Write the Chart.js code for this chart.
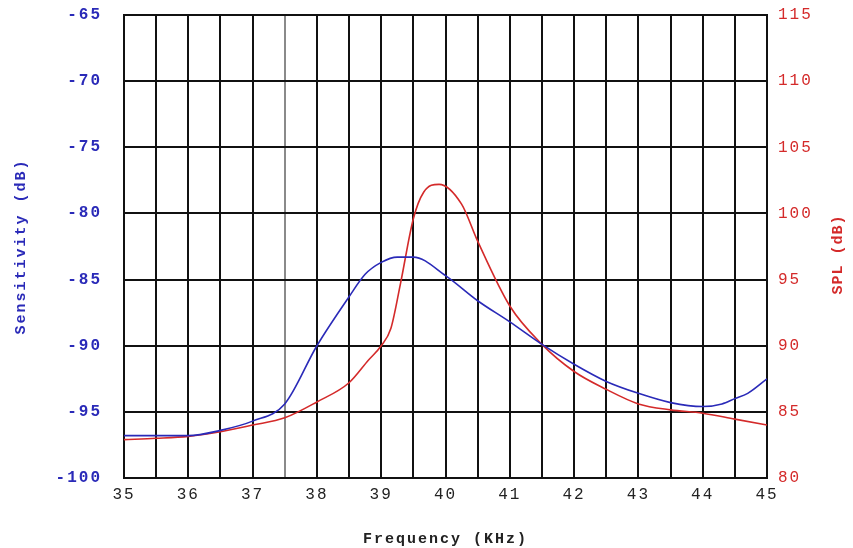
<!DOCTYPE html>
<html>
<head>
<meta charset="utf-8">
<script src="https://cdn.jsdelivr.net/npm/chart.js@4.4.1/dist/chart.umd.min.js"></script>
<style>
  html, body { margin: 0; padding: 0; background: #fff; }
  #wrap { width: 853px; height: 548px; }
</style>
</head>
<body>
<div id="wrap"><canvas id="chart" width="853" height="548"></canvas></div>
<script>
'use strict';

// Frequency (KHz) samples
var sensFreq = [35, 35.5, 36, 36.5, 37, 37.5, 38, 38.5, 38.75, 39, 39.25, 39.5, 40, 40.5, 41, 41.5, 42, 42.5, 43, 43.5, 44, 44.3, 44.5, 44.7, 45];
var sensValues = [-96.8, -96.8, -96.8, -96.4, -95.7, -94.4, -90.0, -86.3, -84.6, -83.7, -83.3, -83.3, -84.7, -86.6, -88.2, -89.9, -91.4, -92.7, -93.6, -94.3, -94.6, -94.4, -94.0, -93.6, -92.5];

var splFreq = [35, 35.5, 36, 36.5, 37, 37.5, 38, 38.5, 38.8, 39, 39.15, 39.3, 39.5, 39.66, 39.9, 40.25, 40.5, 41, 41.5, 42, 42.5, 43, 43.5, 44, 44.5, 45];
var splValues = [82.9, 83.0, 83.15, 83.5, 84.0, 84.55, 85.75, 87.2, 88.9, 90.0, 91.3, 94.7, 99.6, 101.6, 102.2, 100.7, 97.9, 93.0, 90.1, 88.05, 86.7, 85.6, 85.15, 84.9, 84.45, 84.0];

var xMin = 35, xMax = 45, xStep = 0.5;
var sensMin = -100, sensMax = -65;
var splMin = 80, splMax = 115;
var yStep = 5;

var BLUE = '#2a2ab8';
var RED = '#d42a2a';

function toPoints(xs, ys) {
  var pts = [];
  for (var i = 0; i < xs.length; i++) {
    pts.push({x: xs[i], y: ys[i]});
  }
  return pts;
}

// pin the side axes to fixed widths and drop the label overflow padding
function fixWidth(w) {
  return function(scale) {
    scale.width = w;
    scale.paddingTop = 0;
    scale.paddingBottom = 0;
  };
}

// letter spacing gets wiped whenever the canvas is resized, so set it again
var spacingPlugin = {
  id: 'spacing',
  beforeUpdate: function(chart) { chart.ctx.letterSpacing = '2px'; },
  beforeDraw: function(chart) { chart.ctx.letterSpacing = '2px'; }
};

// right title reads bottom-to-top like the left one
var rightTitle = {
  id: 'rightTitle',
  afterDraw: function(chart) {
    var ctx = chart.ctx;
    var area = chart.chartArea;
    ctx.save();
    ctx.letterSpacing = '1px';
    ctx.translate(838, (area.top + area.bottom) / 2 + 8);
    ctx.rotate(-Math.PI / 2);
    ctx.font = 'bold 15px "Liberation Mono"';
    ctx.fillStyle = RED;
    ctx.textAlign = 'center';
    ctx.textBaseline = 'middle';
    ctx.fillText('SPL (dB)', 0, 0);
    ctx.restore();
  }
};

var ctx = document.getElementById('chart').getContext('2d');

var chart = new Chart(ctx, {
  type: 'line',
  data: {
    datasets: [{
      label: 'Sensitivity',
      data: toPoints(sensFreq, sensValues),
      yAxisID: 'y',
      borderColor: BLUE,
      borderWidth: 1.6,
      pointRadius: 0,
      cubicInterpolationMode: 'monotone',
      fill: false
    }, {
      label: 'SPL',
      data: toPoints(splFreq, splValues),
      yAxisID: 'y2',
      borderColor: RED,
      borderWidth: 1.6,
      pointRadius: 0,
      cubicInterpolationMode: 'monotone',
      fill: false
    }]
  },
  options: {
    responsive: false,
    animation: false,
    layout: {padding: {top: 15, left: 0, right: 0, bottom: 0}},
    plugins: {
      legend: {display: false},
      tooltip: {enabled: false}
    },
    scales: {
      x: {
        type: 'linear',
        min: xMin,
        max: xMax,
        afterFit: function(scale) {
          scale.height = 70;
          scale.paddingLeft = 0;
          scale.paddingRight = 0;
        },
        afterBuildTicks: function(scale) {
          var ticks = [];
          for (var v = xMin; v <= xMax + 1e-9; v += xStep) ticks.push({value: v});
          scale.ticks = ticks;
        },
        grid: {
          color: function(c) { return c.tick && c.tick.value === 37.5 ? '#8a8a8a' : '#111'; },
          lineWidth: 2,
          drawTicks: false
        },
        border: {display: true, color: '#111', width: 2},
        ticks: {
          autoSkip: false,
          maxRotation: 0,
          padding: 7,
          color: '#222',
          font: {family: '"Liberation Mono"', size: 16},
          callback: function(v) { return Number.isInteger(v) ? String(v) : ''; }
        },
        title: {
          display: true,
          text: 'Frequency (KHz)',
          color: '#222',
          font: {family: '"Liberation Mono"', size: 15, weight: 'bold'},
          padding: {top: 0, bottom: 0}
        }
      },
      y: {
        type: 'linear',
        position: 'left',
        min: sensMin,
        max: sensMax,
        afterFit: fixWidth(124),
        grid: {color: '#111', lineWidth: 2, drawTicks: false},
        border: {display: true, color: '#111', width: 2},
        ticks: {
          stepSize: yStep,
          padding: 22,
          color: BLUE,
          font: {family: '"Liberation Mono"', size: 16, weight: 'bold'}
        },
        title: {
          display: true,
          text: 'Sensitivity (dB)',
          color: BLUE,
          font: {family: '"Liberation Mono"', size: 15, weight: 'bold'},
          padding: {top: 12, bottom: 0}
        }
      },
      y2: {
        type: 'linear',
        position: 'right',
        min: splMin,
        max: splMax,
        afterFit: fixWidth(86),
        grid: {display: false, drawTicks: false},
        border: {display: true, color: '#111', width: 2},
        ticks: {
          stepSize: yStep,
          padding: 11,
          color: RED,
          font: {family: '"Liberation Mono"', size: 16}
        }
      }
    }
  },
  plugins: [spacingPlugin, rightTitle]
});
</script>
</body>
</html>
